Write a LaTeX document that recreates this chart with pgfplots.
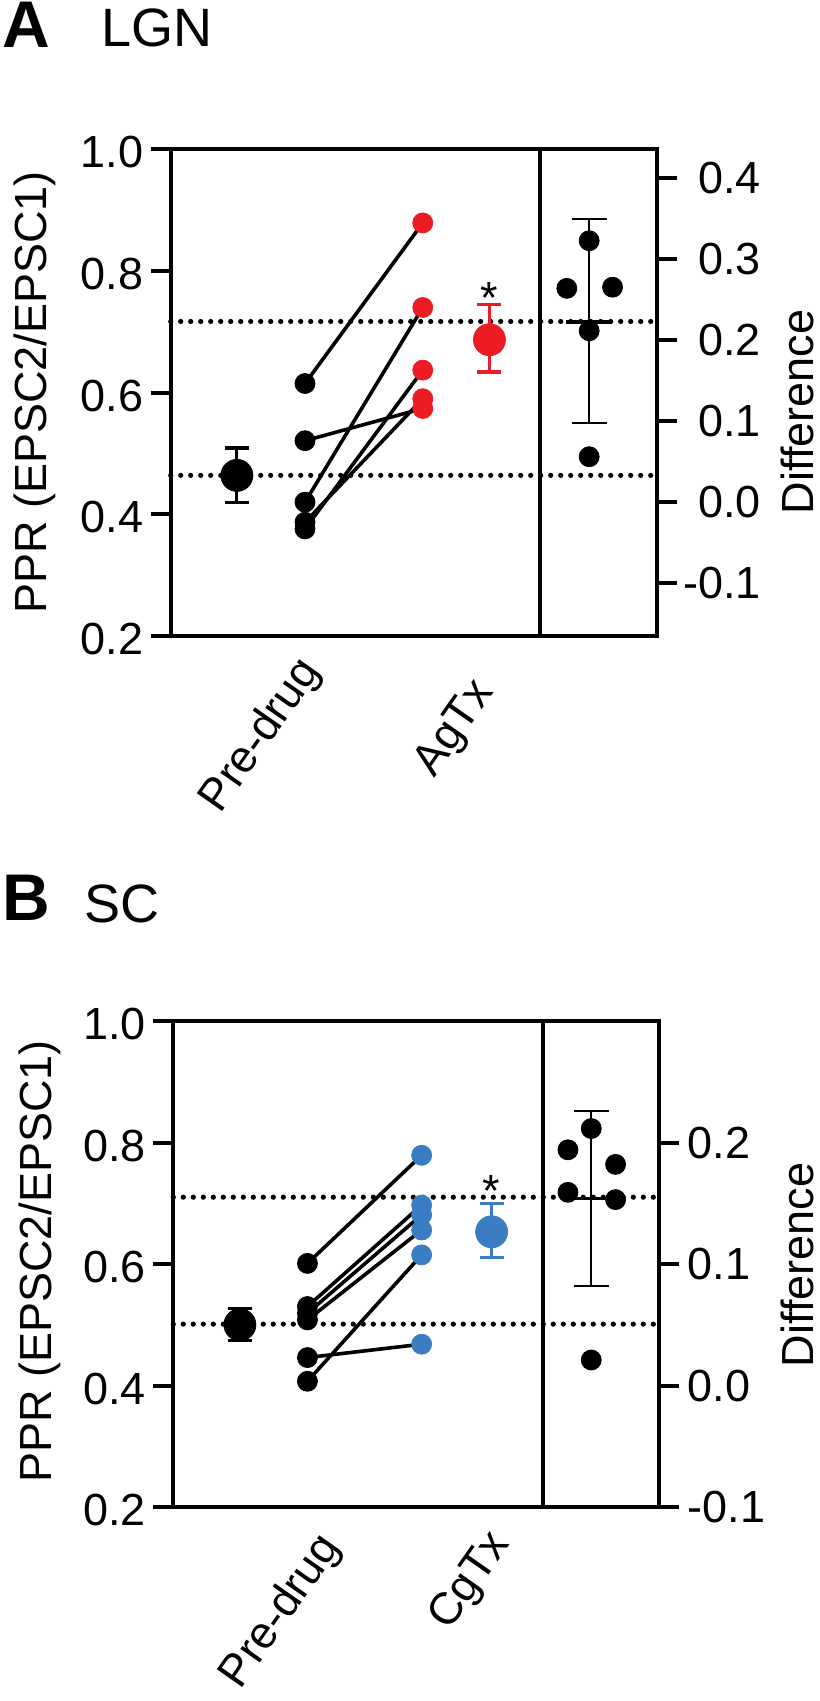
\documentclass[border=0pt]{standalone}
\usepackage{fontspec}
\setmainfont{Liberation Sans}
\usepackage{pgfplots}
\pgfplotsset{compat=1.18}
\definecolor{agred}{RGB}{237,28,36}
\definecolor{cgblue}{RGB}{58,125,195}
\newcommand\lf{\fontsize{22.5}{27}\selectfont}
\pgfplotsset{
  base/.style={scale only axis, anchor=south west, xmin=0, xmax=100, clip=false,
    tick align=outside, major tick length=10pt,
    major tick style={line width=2pt, black},
    axis line style={line width=2pt},
    xtick=\empty},
  leftax/.style={base, ymin=0.2, ymax=1.0, ytick={0.2,0.4,0.6,0.8,1.0},
    yticklabels={0.2,0.4,0.6,0.8,1.0}, ytick pos=left,
    yticklabel style={font=\lf, inner sep=0pt, anchor=east, xshift=-3.5pt, yshift=-1.5pt}},
  dotl/.style={black, line width=2.6pt, dash pattern=on 0pt off 5pt, line cap=round},
  pair/.style={black, line width=1.8pt, mark=none},
  pt/.style={only marks, mark=*, mark size=5pt},
  mpt/.style={only marks, mark=*, mark size=8pt},
  eb/.style={line width=1.6pt, mark=none},
  ebt/.style={black, line width=1pt, mark=none},
  diffmean/.style={black, only marks, mark=-, mark size=11.4pt, mark options={line width=1.6pt}},
}
\tikzset{xlab/.style={rotate=55, anchor=east, inner sep=0pt, font=\lf}}
\begin{document}
\begin{tikzpicture}
% ---------------- Panel A ----------------
\node[anchor=base west, inner sep=0pt, font=\bfseries\fontsize{33}{38}\selectfont] at (1pt,-24pt) {A};
\node[anchor=base west, inner sep=0pt, font=\fontsize{27}{32}\selectfont] at (50.5pt,-23.5pt) {LGN};
\begin{axis}[leftax, at={(85.35pt,-318pt)}, width=243.3pt, height=243.35pt]
\addplot[dotl] coordinates {(0,0.717) (100,0.717)};
\addplot[dotl] coordinates {(0,0.464) (100,0.464)};
\addplot[black, line width=2pt] coordinates {(75.8,0.2) (75.8,1.0)};
\addplot[pair] coordinates {(27.6,0.615) (51.8,0.879)};
\addplot[pair] coordinates {(27.6,0.420) (51.8,0.740)};
\addplot[pair] coordinates {(27.6,0.521) (51.8,0.574)};
\addplot[pair] coordinates {(27.6,0.376) (51.8,0.637)};
\addplot[pair] coordinates {(27.6,0.387) (51.8,0.590)};
\addplot[pt, black] coordinates {(27.6,0.615) (27.6,0.521) (27.6,0.420) (27.6,0.387) (27.6,0.376)};
\addplot[pt, agred] coordinates {(51.8,0.879) (51.8,0.740) (51.8,0.637) (51.8,0.590) (51.8,0.574)};
% pre-drug mean +- error
\addplot[eb, black] coordinates {(13.6,0.419) (13.6,0.509)};
\addplot[eb, black] coordinates {(11.13,0.509) (16.07,0.509)};
\addplot[eb, black] coordinates {(11.13,0.419) (16.07,0.419)};
\addplot[mpt, black] coordinates {(13.6,0.464)};
% AgTx mean +- error
\addplot[eb, agred] coordinates {(65.5,0.634) (65.5,0.745)};
\addplot[eb, agred] coordinates {(63.03,0.745) (67.97,0.745)};
\addplot[eb, agred] coordinates {(63.03,0.634) (67.97,0.634)};
\addplot[mpt, agred] coordinates {(65.5,0.687)};
\node[anchor=base, inner sep=0pt, font=\lf] at (axis cs:65.5,0.7305) {*};
\end{axis}
\begin{axis}[base, at={(85.35pt,-318pt)}, width=243.3pt, height=243.35pt,
  ymin=-0.165, ymax=0.435, axis x line=none, axis y line*=right,
  ytick={-0.1,0,0.1,0.2,0.3,0.4}, yticklabels={-0.1,0.0,0.1,0.2,0.3,0.4},
  yticklabel style={font=\lf, inner sep=0pt, anchor=west, text width=39pt, align=right, xshift=2.5pt}]
\addplot[ebt] coordinates {(86,0.097) (86,0.349)};
\addplot[ebt] coordinates {(82.4,0.349) (89.6,0.349)};
\addplot[ebt] coordinates {(82.4,0.097) (89.6,0.097)};
\addplot[diffmean] coordinates {(86,0.222)};
\addplot[pt, black] coordinates {(81.4,0.2636) (86.0,0.3223) (90.8,0.265) (86.0,0.2113) (86.0,0.056)};
\end{axis}
\node[rotate=90, font=\lf] at (17.5pt,-196.3pt) {PPR (EPSC2/EPSC1)};
\node[rotate=90, font=\lf, inner sep=0pt] at (398.5pt,-206pt) {Difference};
\node[xlab] at (156pt,-332pt) {Pre-drug};
\node[xlab] at (243pt,-343pt) {AgTx};
% ---------------- Panel B ----------------
\node[anchor=base west, inner sep=0pt, font=\bfseries\fontsize{33}{38}\selectfont] at (1pt,-460pt) {B};
\node[anchor=base west, inner sep=0pt, font=\fontsize{27}{32}\selectfont] at (42pt,-461pt) {SC};
\begin{axis}[leftax, at={(86.65pt,-753.5pt)}, width=243pt, height=243pt]
\addplot[dotl] coordinates {(0,0.710) (100,0.710)};
\addplot[dotl] coordinates {(0,0.501) (100,0.501)};
\addplot[black, line width=2pt] coordinates {(76.0,0.2) (76.0,1.0)};
\addplot[pair] coordinates {(27.6,0.601) (51.1,0.779)};
\addplot[pair] coordinates {(27.6,0.530) (51.1,0.697)};
\addplot[pair] coordinates {(27.6,0.519) (51.1,0.681)};
\addplot[pair] coordinates {(27.6,0.508) (51.1,0.656)};
\addplot[pair] coordinates {(27.6,0.407) (51.1,0.615)};
\addplot[pair] coordinates {(27.6,0.446) (51.1,0.468)};
\addplot[pt, black] coordinates {(27.6,0.601) (27.6,0.530) (27.6,0.519) (27.6,0.508) (27.6,0.446) (27.6,0.407)};
\addplot[pt, cgblue] coordinates {(51.1,0.779) (51.1,0.697) (51.1,0.681) (51.1,0.656) (51.1,0.615) (51.1,0.468)};
% pre-drug mean +- error
\addplot[eb, black] coordinates {(13.7,0.474) (13.7,0.527)};
\addplot[eb, black] coordinates {(11.23,0.527) (16.17,0.527)};
\addplot[eb, black] coordinates {(11.23,0.474) (16.17,0.474)};
\addplot[mpt, black] coordinates {(13.7,0.500)};
% CgTx mean +- error
\addplot[eb, cgblue] coordinates {(65.5,0.611) (65.5,0.699)};
\addplot[eb, cgblue] coordinates {(63.03,0.699) (67.97,0.699)};
\addplot[eb, cgblue] coordinates {(63.03,0.611) (67.97,0.611)};
\addplot[mpt, cgblue] coordinates {(65.5,0.653)};
\node[anchor=base, inner sep=0pt, font=\lf] at (axis cs:65.5,0.6955) {*};
\end{axis}
\begin{axis}[base, at={(86.65pt,-753.5pt)}, width=243pt, height=243pt,
  ymin=-0.1, ymax=0.3, axis x line=none, axis y line*=right,
  ytick={-0.1,0,0.1,0.2}, yticklabels={-0.1,0.0,0.1,0.2},
  yticklabel style={font=\lf, inner sep=0pt, anchor=west, xshift=4pt}]
\addplot[ebt] coordinates {(86,0.0823) (86,0.2257)};
\addplot[ebt] coordinates {(82.4,0.2257) (89.6,0.2257)};
\addplot[ebt] coordinates {(82.4,0.0823) (89.6,0.0823)};
\addplot[diffmean] coordinates {(86,0.1536)};
\addplot[pt, black] coordinates {(86.0,0.2115) (81.2,0.194) (91.0,0.182) (81.2,0.159) (91.0,0.153) (86.0,0.021)};
\end{axis}
\node[rotate=90, font=\lf] at (19.75pt,-630.75pt) {PPR (EPSC2/EPSC1)};
\node[rotate=90, font=\lf, inner sep=0pt] at (398.5pt,-632.5pt) {Difference};
\node[xlab] at (166pt,-770pt) {Pre-drug};
\node[xlab] at (251pt,-768.5pt) {CgTx};
\pgfresetboundingbox
\path (0pt,0pt) rectangle (409.5pt,-850.5pt);
\end{tikzpicture}
\end{document}
